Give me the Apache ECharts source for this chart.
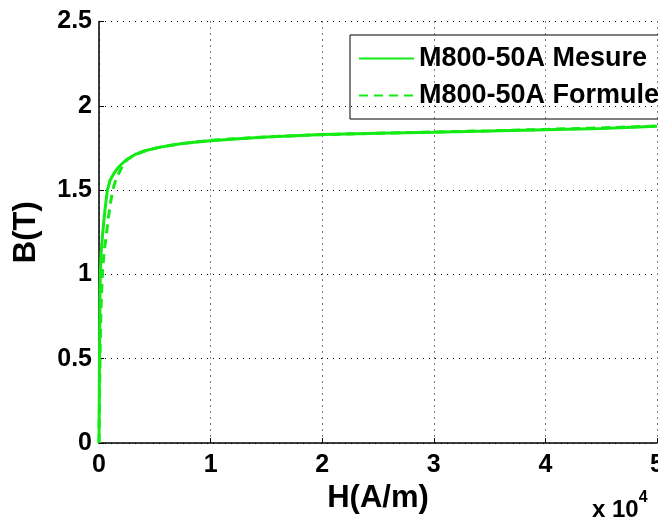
<!DOCTYPE html>
<html>
<head>
<meta charset="utf-8">
<script src="https://cdn.jsdelivr.net/npm/echarts@6/dist/echarts.min.js"></script>
<style>html,body{margin:0;padding:0;background:#fff}#c{width:658px;height:521px}</style>
</head>
<body>
<div id="c"></div>
<script>
// Data (H in A/m, B in T)
var H_mesure = [0, 20, 40, 60, 90, 120, 180, 300, 450, 600, 750, 1000, 1350, 1800, 2400, 3200, 4200, 5500, 7300, 8700, 10000, 12500, 15000, 20000, 25000, 30000, 35000, 40000, 45000, 50000];
var B_mesure = [0, 0.2, 0.45, 0.65, 0.85, 1.0, 1.12, 1.22, 1.33, 1.42, 1.5, 1.56, 1.6, 1.64, 1.677, 1.71, 1.735, 1.755, 1.775, 1.785, 1.793, 1.805, 1.815, 1.83, 1.837, 1.843, 1.85, 1.858, 1.866, 1.878];
var H_formule = [0, 50, 100, 180, 300, 450, 630, 830, 1020, 1230, 1500, 1780, 2220, 2600, 3200, 4200, 5500, 7300, 10000, 15000, 20000, 25000, 30000, 35000, 40000, 45000, 50000];
var B_formule = [0, 0.3, 0.55, 0.8, 1.0, 1.13, 1.22, 1.33, 1.42, 1.5, 1.56, 1.6, 1.66, 1.685, 1.71, 1.735, 1.755, 1.775, 1.795, 1.816, 1.829, 1.837, 1.845, 1.852, 1.86, 1.869, 1.88];
var seriesNames = ['M800-50A Mesure', 'M800-50A Formule'];
var xTicks = [0, 10000, 20000, 30000, 40000, 50000];
var yTicks = [0, 0.5, 1, 1.5, 2, 2.5];

function pairs(xs, ys) { return xs.map(function (x, i) { return [x, ys[i]]; }); }

var FONT = 'Liberation Sans, Arial, sans-serif';
var GREEN = '#14ea14';
var chart = echarts.init(document.getElementById('c'), null, {renderer: 'canvas'});
chart.setOption({
  animation: false,
  backgroundColor: '#fff',
  grid: {left: 99, right: 1, top: 21.5, bottom: 78, containLabel: false, outerBoundsMode: 'none'},
  legend: {
    orient: 'vertical', left: 350, top: 35,
    borderColor: '#000', borderWidth: 1,
    padding: [10, 40, 10, 8], itemGap: 10,
    itemWidth: 55, itemHeight: 14,
    itemStyle: {opacity: 0},
    textStyle: {fontFamily: FONT, fontWeight: 'bold', fontSize: 27, color: '#000'},
    data: seriesNames
  },
  xAxis: {
    type: 'value', min: xTicks[0], max: xTicks[xTicks.length - 1], interval: 10000,
    name: 'H(A/m)', nameLocation: 'middle', nameGap: 36,
    nameTextStyle: {fontFamily: FONT, fontWeight: 'bold', fontSize: 31, color: '#000'},
    axisLine: {show: true, onZero: false, lineStyle: {color: '#000', width: 1.5}},
    axisTick: {show: true, inside: true, length: 5, lineStyle: {color: '#000'}},
    axisLabel: {fontFamily: FONT, fontWeight: 'bold', fontSize: 25, color: '#000', margin: 10,
      formatter: function (v) { return String(v / 10000); }},
    splitLine: {show: true, lineStyle: {color: '#000', type: [1, 5], width: 1}}
  },
  yAxis: {
    type: 'value', min: yTicks[0], max: yTicks[yTicks.length - 1], interval: 0.5,
    name: 'B(T)', nameLocation: 'middle', nameGap: 57, nameRotate: 90,
    nameTextStyle: {fontFamily: FONT, fontWeight: 'bold', fontSize: 31, color: '#000'},
    axisLine: {show: true, onZero: false, lineStyle: {color: '#000', width: 1.5}},
    axisTick: {show: true, inside: true, length: 5, lineStyle: {color: '#000'}},
    axisLabel: {fontFamily: FONT, fontWeight: 'bold', fontSize: 25, color: '#000', margin: 7,
      formatter: function (v) { return String(v); }},
    splitLine: {show: true, lineStyle: {color: '#000', type: [1, 5], width: 1}}
  },
  graphic: [{
    type: 'text', left: 592, top: 490,
    style: {
      text: '{a|x 10}{b|4}',
      rich: {
        a: {fontFamily: FONT, fontWeight: 'bold', fontSize: 24, fill: '#000', verticalAlign: 'bottom', lineHeight: 32},
        b: {fontFamily: FONT, fontWeight: 'bold', fontSize: 16, fill: '#000', verticalAlign: 'top', lineHeight: 32}
      }
    }
  }],
  series: [{
    name: seriesNames[0], type: 'line', data: pairs(H_mesure, B_mesure),
    showSymbol: false, symbol: 'none', smooth: false,
    lineStyle: {color: GREEN, width: 3}, itemStyle: {color: GREEN}
  }, {
    name: seriesNames[1], type: 'line', data: pairs(H_formule, B_formule),
    showSymbol: false, symbol: 'none', smooth: false,
    lineStyle: {color: GREEN, width: 3, type: [9, 6]}, itemStyle: {color: GREEN}
  }]
});
</script>
</body>
</html>
